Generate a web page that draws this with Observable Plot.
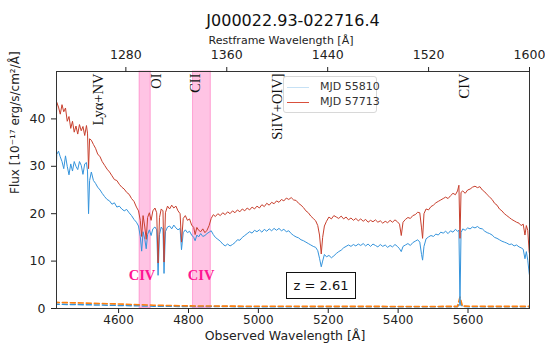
<!DOCTYPE html>
<html><head><meta charset="utf-8">
<script src="https://cdn.jsdelivr.net/npm/d3@7"></script>
<script src="https://cdn.jsdelivr.net/npm/@observablehq/plot@0.6"></script>
<style>
body{margin:0;background:#fff;}
#wrap{position:relative;width:545px;height:345px;font-family:"DejaVu Sans",sans-serif;}
#wrap svg{position:absolute;left:0;top:0;}
.legend{position:absolute;left:283px;top:76px;width:94px;height:37px;border:1px solid #d8d8d8;border-radius:3px;background:rgba(255,255,255,0.9);box-sizing:border-box;font-size:11px;color:#333;}
.legend .row{position:absolute;left:3px;height:14px;}
.legend .sw{position:absolute;left:0;top:7px;width:22px;height:0;border-top:1.3px solid;}
.legend .lab{position:absolute;left:33px;top:0;white-space:nowrap;line-height:14px;}
.zbox{position:absolute;left:286px;top:272px;width:70px;height:27px;border:1.2px solid #111;box-sizing:border-box;background:#fff;font-size:13px;line-height:25px;text-align:center;color:#111;}
</style></head>
<body><div id="wrap"></div>
<script>
const z = 2.61;
const title = "J000022.93-022716.4";
const mjdLabels = ["MJD 55810", "MJD 57713"];
const wave = [
4416,4423,4428,4433,4438,4443,4448,4453,4458,4463,
4468,4473,4478,4483,4488,4493,4498,4503,4508,4511,
4514,4517,4522,4528,4534,4540,4547,4553,4560,4567,
4574,4581,4588,4595,4602,4609,4616,4623,4630,4637,
4644,4651,4657,4662,4666,4670,4675,4679,4683,4688,
4693,4698,4704,4709,4713,4717,4722,4727,4730,4734,
4740,4746,4752,4758,4764,4770,4776,4780,4785,4791,
4797,4803,4809,4815,4819,4824,4829,4835,4841,4847,
4853,4859,4865,4871,4877,4884,4891,4898,4905,4912,
4919,4926,4933,4940,4947,4954,4961,4968,4975,4982,
4989,4996,5003,5010,5017,5024,5031,5038,5045,5052,
5059,5066,5073,5080,5087,5094,5101,5108,5115,5122,
5129,5136,5143,5150,5157,5164,5170,5175,5180,5184,
5189,5195,5202,5209,5216,5223,5230,5237,5244,5251,
5258,5265,5272,5279,5286,5293,5300,5307,5314,5321,
5328,5335,5342,5349,5356,5363,5370,5377,5384,5391,
5398,5404,5409,5414,5421,5428,5435,5442,5449,5456,
5462,5467,5470,5474,5480,5487,5494,5501,5508,5515,
5522,5529,5536,5543,5550,5557,5564,5570,5574,5577,
5580,5585,5592,5599,5606,5613,5620,5627,5634,5641,
5648,5655,5662,5669,5676,5683,5690,5697,5704,5711,
5718,5725,5732,5739,5746,5752,5758,5763,5767,5771,5775,5780];
const flux57713 = [
19,43.5,42.5,41,43,41.5,42.3,39.5,40.5,38,
39.5,37.2,38.5,36.8,38.8,37.5,38.4,36.5,38.6,37,
29.5,35.8,35.5,34.6,33.8,32.6,32,31,30.2,29.4,
28.8,28,27.2,27,26.2,25.6,25.2,24.5,24.1,23.2,
22.6,21.4,20.6,18.6,15.2,19.6,17.2,14.6,19.2,20.2,
18.6,20.6,21.2,20.2,9.6,19.2,21,20.6,9.8,20.2,
21.6,21,21.8,21.2,21.6,20.6,20,14,19,19.6,
18.6,18.9,17.6,17.1,15.6,17.1,16.5,16.2,16.8,16,
16.5,17.5,19,19.8,19.4,20,19.6,20.2,19.8,20.4,
20,20.6,20.2,20.8,20.4,21,20.6,21.2,20.8,21.4,
21,21.6,21.2,21.9,21.5,22.2,21.8,22.4,22.1,22.7,
22.4,23,22.7,23.3,23,23.4,22.9,22.8,22.2,21.8,
21.3,20.6,20.2,19.5,19,18.5,17.5,15.5,11.5,15,
17.4,18.4,19.3,18.9,19.6,19.3,19,19.5,18.9,19.3,
18.7,19.1,18.6,19,18.5,18.9,18.4,18.8,18.2,18.6,
18.3,18.7,18.2,18.5,18,18.4,18.1,18.6,18.2,18.7,
18.3,17.8,15.4,18.2,18.8,19.2,19,19.6,19.8,20.3,
20.2,17,14.8,20,21,20.8,21.5,21.8,22.3,22.6,
22.9,23.2,23.5,23.2,23.8,24.3,24,24.8,26,14.8,
24.5,24.8,24.3,25,25.2,25.6,25.8,25.5,25.7,25,
24.6,24,23.5,23,22.2,21.8,21,20.6,20,19.6,
19.2,18.8,18.5,18.2,18,17.5,17.8,15.5,17.5,16.5,12,10];
const flux55810 = [
15,32.5,33.2,32,31,29.5,32.2,30,28.2,30.5,
29,31,30,29.3,31,30.2,28.3,30.5,30.8,29,
20,27,28.8,27,26.4,25.6,25,24.3,23.6,23,
22.7,22,22.3,21.4,21.6,21,20.6,20.9,20.2,19.6,
18.8,18.2,17.4,15.2,12.1,16.2,14.6,12.6,15.6,16.6,
15.4,16.8,17.2,16.6,7,15.6,17.2,16.6,7.4,16.2,
17.2,17.4,16.8,17.6,17,16.6,16.9,12.4,16,16.6,
16,16.3,15.5,15,14.3,15.5,15.1,15.8,15.2,15.4,
15.8,16.1,16.4,15.6,15,14.6,14.2,13.6,13.2,13.6,
13.2,13.5,13.9,14.5,14.4,15,15.4,15.8,16.2,15.9,
16.5,16.2,16.6,16.1,16.7,16.3,16.8,16.4,16.9,16.5,
16.9,16.4,16.7,16.2,16.4,15.8,15.4,15.1,14.9,14.5,
14.3,14,13.7,13.4,13.1,12.9,12.2,10.6,8.8,10,
11.4,10.9,11.2,10.7,11.1,11.6,12,12.3,12.8,13.1,
13.4,13.1,13.5,13.2,13.6,13.3,13.7,13.2,13.6,13.1,
13.6,13.3,13,13.5,13.1,13.4,12.9,13.3,13,13.5,
13.1,12.6,12,13.1,13.4,13.7,13.3,13.9,14.2,14.5,
14,11.4,10.2,13.1,14.7,15.1,15.4,15.2,15.7,15.5,
16.1,15.9,16.3,15.8,16.4,16.1,16.7,16.3,16.5,0.6,
16,16.8,16.5,17,16.8,17.2,17,17.3,16.9,16.8,
16.3,16,15.8,15.5,15,14.8,14.5,14.2,14,13.8,
13.5,13.6,13.2,13.4,13,12.8,12.5,10.5,12,10.2,7.5,5];
const errWave   = [4416,4500,4600,4700,4800,4900,5000,5100,5200,5300,5400,5500,5570,5577,5584,5650,5780];
const err57713  = [1.3,1.15,0.95,0.7,0.55,0.5,0.48,0.46,0.45,0.45,0.43,0.43,0.45,2.4,0.5,0.45,0.45];
const err55810  = [0.9,0.8,0.65,0.5,0.42,0.4,0.38,0.37,0.36,0.36,0.35,0.36,0.38,1.4,0.4,0.37,0.37];
const xTicks = [4600,4800,5000,5200,5400,5600];
const restTicks = [1280,1360,1440,1520,1600];
const yTicks = [0,10,20,30,40];
const bandLo = [4660,4813];
const bandHi = [4692,4864];
const lineNames = ["Lyα+NV","OI","CII","SiIV+OIV]","CIV"];
const lineWaves = [4527,4693,4803,5039,5573];
const civLabels = ["CIV","CIV"];
const civWave = [4667,4836];
const civFlux = [7,7];

const specA = wave.map((w,i)=>({w, f: flux55810[i]}));
const specB = wave.map((w,i)=>({w, f: flux57713[i]}));
const errA = errWave.map((w,i)=>({w, f: err55810[i]}));
const errB = errWave.map((w,i)=>({w, f: err57713[i]}));
const bands = bandLo.map((lo,i)=>({lo, hi: bandHi[i]}));
const lines = lineNames.map((n,i)=>({n, w: lineWaves[i]}));
const civ = civLabels.map((n,i)=>({n, w: civWave[i], f: civFlux[i]}));
const blue = "#3594dc", red = "#c8402e";

const plot = Plot.plot({
  width: 545, height: 345,
  marginTop: 71, marginBottom: 37, marginLeft: 56, marginRight: 16,
  style: {fontFamily: "DejaVu Sans", fontSize: "12.5px", color: "#222", background: "white"},
  x: {domain: [1225*(1+z), 1600*(1+z)]},
  y: {domain: [0, 50]},
  marks: [
    Plot.rect(bands, {x1: "lo", x2: "hi", fill: "#ff1493", fillOpacity: 0.25, stroke: "#ff1493", strokeOpacity: 0.3}),
    Plot.line(errA, {x: "w", y: "f", stroke: blue, strokeWidth: 1.5, strokeDasharray: "5,3", clip: true}),
    Plot.line(errB, {x: "w", y: "f", stroke: "#ff7f0e", strokeWidth: 1.6, strokeDasharray: "5,3", clip: true}),
    Plot.line(specA, {x: "w", y: "f", stroke: blue, strokeWidth: 1, clip: true}),
    Plot.line(specB, {x: "w", y: "f", stroke: red, strokeWidth: 1, clip: true}),
    Plot.text(lines, {x: "w", text: "n", frameAnchor: "top", dy: 2, rotate: -90, textAnchor: "end", fontFamily: "Liberation Serif", fontSize: 14.5, fill: "#111"}),
    Plot.text(civ, {x: "w", y: "f", text: "n", fontFamily: "Liberation Serif", fontWeight: "bold", fontSize: 14.5, fill: "#ff1493"}),
    Plot.frame({stroke: "#333"}),
    Plot.axisX(xTicks, {anchor: "bottom", tickSize: 5, tickPadding: 2, label: null, fontSize: 12, tickFormat: d => String(d)}),
    Plot.axisX(restTicks.map(r => r*(1+z)), {anchor: "top", tickFormat: d => String(Math.round(d/(1+z))), tickSize: 5, tickPadding: 8, label: null, fontSize: 12.5}),
    Plot.axisY(yTicks, {anchor: "left", tickSize: 5, tickPadding: 6, label: null, fontSize: 12.5, tickFormat: d => String(d)}),
    Plot.text([title], {frameAnchor: "top", dy: -57, fontSize: 16, fill: "#111"}),
    Plot.text(["Restframe Wavelength [Å]"], {frameAnchor: "top", dy: -35, dx: -12, fontSize: 11, fill: "#222"}),
    Plot.text(["Observed Wavelength [Å]"], {frameAnchor: "bottom", dy: 31, dx: -8, fontSize: 12.5, fill: "#222"}),
    Plot.text(["Flux [10⁻¹⁷ erg/s/cm²/Å]"], {frameAnchor: "left", dx: -41, dy: 4, rotate: -90, fontSize: 12, fill: "#222"})
  ]
});
const wrap = document.getElementById("wrap");
wrap.appendChild(plot);

const leg = document.createElement("div");
leg.className = "legend";
const legColors = ["#c6e1f5", "#d9503c"];
mjdLabels.forEach((lab, i) => {
  const row = document.createElement("div");
  row.className = "row";
  row.style.top = (3 + i*15) + "px";
  row.style.width = "88px";
  const sw = document.createElement("div");
  sw.className = "sw"; sw.style.borderColor = legColors[i];
  const t = document.createElement("div");
  t.className = "lab"; t.textContent = lab;
  row.appendChild(sw); row.appendChild(t);
  leg.appendChild(row);
});
wrap.appendChild(leg);

const zb = document.createElement("div");
zb.className = "zbox";
zb.textContent = "z = " + z.toFixed(2);
wrap.appendChild(zb);
</script>
</body></html>
